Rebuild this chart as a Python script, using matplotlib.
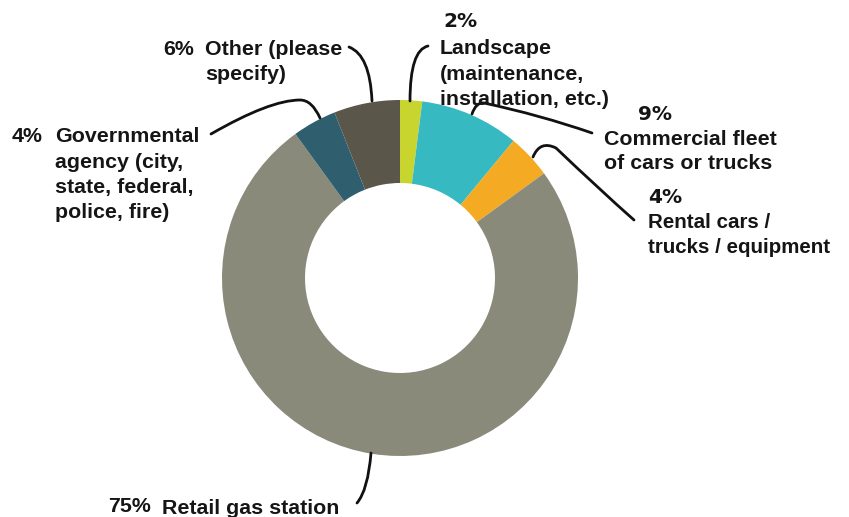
import matplotlib.pyplot as plt
import numpy as np
from matplotlib.path import Path
from matplotlib.patches import PathPatch

# survey shares, clockwise from 12 o'clock
categories = ['Landscape (maintenance, installation, etc.)',
              'Commercial fleet of cars or trucks',
              'Rental cars / trucks / equipment',
              'Retail gas station',
              'Governmental agency (city, state, federal, police, fire)',
              'Other (please specify)']
shares = [2, 9, 4, 75, 4, 6]
colors = ['#c9d52f', '#36b9c1', '#f4ab23', '#8a8a7b', '#2f5f6f', '#5a5649']

W, H = 849, 517
fig = plt.figure(figsize=(W / 100, H / 100), dpi=100)
ax = fig.add_axes([0, 0, 1, 1])

cx, cy, r_out, r_in = 400, 278, 178, 95
ax.pie(shares, colors=colors, startangle=90, counterclock=False,
       radius=r_out, center=(cx, H - cy),
       wedgeprops=dict(width=r_out - r_in, linewidth=0))
ax.set_xlim(0, W)
ax.set_ylim(0, H)
ax.set_aspect('equal')
ax.axis('off')


def Y(y):
    return H - y


font = dict(fontsize=15.4, fontweight='bold', color='#151515',
            family='Liberation Sans', va='baseline', ha='left')
pfont = dict(font, family='DejaVu Sans', fontsize=14.5)


def label(x, y, lines, step=25.5, size=None):
    f = dict(font, fontsize=size or font['fontsize'])
    for i, s in enumerate(lines):
        ax.text(x, Y(y + i * step), s, **f)


# left-side labels
ax.text(163, Y(55), '6%', **font)
label(205, 55, ['Other (please', 'specify)'])
ax.text(12, Y(142), '4%', **font)
label(55, 142, ['Governmental', 'agency (city,', 'state, federal,', 'police, fire)'])
ax.text(108, Y(512), '75%', **font)
ax.text(162, Y(514), 'Retail gas station', **font)

# right-side labels
ax.text(443, Y(27), '2%', **pfont)
label(440, 54, ['Landscape', '(maintenance,', 'installation, etc.)'])
ax.text(638, Y(120), '9%', **pfont)
label(604, 145, ['Commercial fleet', 'of cars or trucks'], step=24)
ax.text(648, Y(203), '4%', **pfont)
label(648, 228, ['Rental cars /', 'trucks / equipment'], step=25, size=14.8)


def leader(pts):
    # quadratic bezier chain: start, (ctrl, end), (ctrl, end) ...
    verts = [(x, Y(y)) for x, y in pts]
    codes = [Path.MOVETO] + [Path.CURVE3] * (len(verts) - 1)
    ax.add_patch(PathPatch(Path(verts, codes), fill=False,
                           lw=2, edgecolor='#111111', capstyle='round'))


leader([(349, 47), (370, 55), (372, 101)])
leader([(211, 134), (270, 100), (300, 100), (312, 100), (320, 118)])
leader([(428, 46), (410, 50), (410, 101)])
leader([(472, 114), (476, 102), (484, 103), (540, 115), (592, 133)])
leader([(533, 157), (540, 140), (556, 148), (600, 190), (634, 220)])
leader([(371, 453), (368, 490), (357, 503)])

fig.savefig('out.png', dpi=100, facecolor='white')
